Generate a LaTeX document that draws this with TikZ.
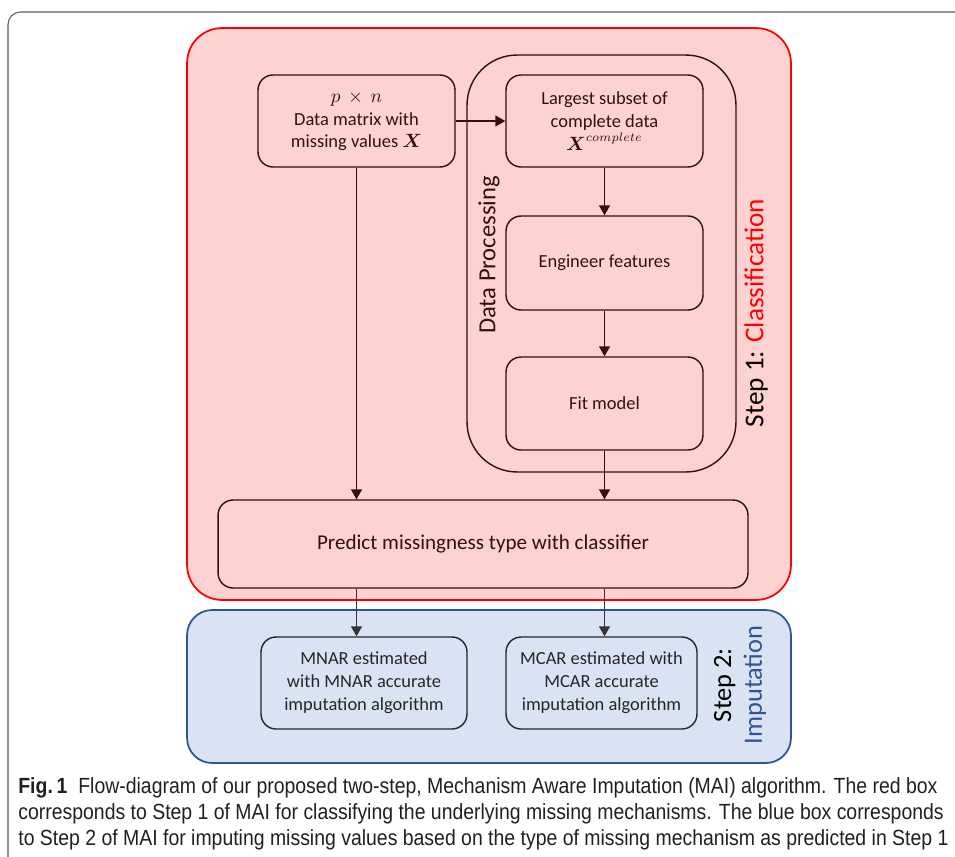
\documentclass[tikz,border=0pt]{standalone}
\usepackage{amsmath}
\usepackage{amssymb}
\usepackage{fontspec}
\setmainfont{Carlito}
\newfontfamily\captionfont[FakeStretch=0.885]{Liberation Sans}
\usetikzlibrary{arrows.meta}
\definecolor{redfill}{RGB}{255,210,210}
\definecolor{bluefill}{RGB}{218,227,243}
\definecolor{blueline}{RGB}{47,85,151}
\definecolor{brownline}{RGB}{58,12,12}
\definecolor{captext}{RGB}{35,31,32}

\begin{document}
\begin{tikzpicture}[x=0.02cm, y=-0.02cm,
    stepbox/.style={draw=brownline, line width=0.8pt, rounded corners=0.3cm,
        minimum width=3.94cm, minimum height=1.84cm, align=center,
        text=brownline, font=\fontsize{10.5}{13}\selectfont, inner sep=2pt},
    impbox/.style={stepbox, draw=black!85, text=black!85},
    flow/.style={draw=brownline, line width=0.8pt,
        -{Triangle[width=0.22cm, length=0.2cm]}},
    impflow/.style={flow, draw=black!80, fill=black!80}]
        \useasboundingbox (0,0) rectangle (955,856);
        % frame of the figure
        \draw[black!65, line width=0.6pt, rounded corners=0.25cm] (8,860) -- (8,12) -- (962,12);
        % step areas
        \node[draw=red, fill=redfill, line width=1pt, rounded corners=0.7cm,
            minimum width=12.08cm, minimum height=11.44cm] (step1) at (489,314) {};
        \node[draw=blueline, fill=bluefill, line width=1pt, rounded corners=0.5cm,
            minimum width=12.08cm, minimum height=3.06cm] (step2) at (489,686.5) {};
        \node[draw=brownline, line width=0.8pt, rounded corners=1cm,
            minimum width=5.38cm, minimum height=8.34cm] (proc) at (601.5,263.5) {};
        % nodes
        \node[stepbox] (mat) at (356.5,121) {$p\,\times\,n$\\Data matrix with\\missing values $\boldsymbol{X}$};
        \node[stepbox] (sub) at (604.5,121) {Largest subset of\\complete data\\$\boldsymbol{X}^{complete}$};
        \node[stepbox, minimum height=1.88cm] (eng) at (604.5,263) {Engineer features};
        \node[stepbox, minimum height=1.86cm] (fit) at (604.5,403.5) {Fit model};
        \node[stepbox, minimum width=10.6cm, minimum height=1.76cm,
            font=\fontsize{12}{14}\selectfont] (pred) at (483,544) {Predict missingness type with classifier};
        \node[impbox, minimum width=4.12cm] (mnar) at (364,683) {MNAR estimated\\with MNAR accurate\\imputation algorithm};
        \node[impbox, minimum width=3.82cm] (mcar) at (601.5,683) {MCAR estimated with\\MCAR accurate\\imputation algorithm};
        % labels
        \node[rotate=90, text=brownline, font=\fontsize{14}{16}\selectfont] (proclabel) at (489,255) {Data Processing};
        \node[rotate=90, font=\fontsize{15.5}{17}\selectfont] (step1label) at (756,313) {Step 1: \textcolor{red}{Classification}};
        \node[rotate=90, align=center, font=\fontsize{15}{17.5}\selectfont] (step2label) at (740,685)
            {Step 2:\\\textcolor{blueline}{Imputation}};
        % arrows
        \draw[flow] (mat) -- (sub);
        \draw[flow] (mat.south) -- (mat.south |- pred.north);
        \draw[flow] (sub) -- (eng);
        \draw[flow] (eng) -- (fit);
        \draw[flow] (fit.south) -- (fit.south |- pred.north);
        \draw[impflow] (pred.south -| mat.south) -- (mnar.north -| mat.south);
        \draw[impflow] (pred.south -| fit.south) -- (mcar.north -| fit.south);
        % caption
        \node[anchor=north west, align=left, inner sep=0pt, text=captext,
            font=\captionfont\fontsize{12.5}{15}\selectfont] (caption) at (18,777)
            {\textbf{Fig.\,1}\enspace Flow-diagram of our proposed two-step, Mechanism Aware Imputation (MAI) algorithm. The red box\\
            corresponds to Step 1 of MAI for classifying the underlying missing mechanisms. The blue box corresponds\\
            to Step 2 of MAI for imputing missing values based on the type of missing mechanism as predicted in Step 1};
\end{tikzpicture}
\end{document}
